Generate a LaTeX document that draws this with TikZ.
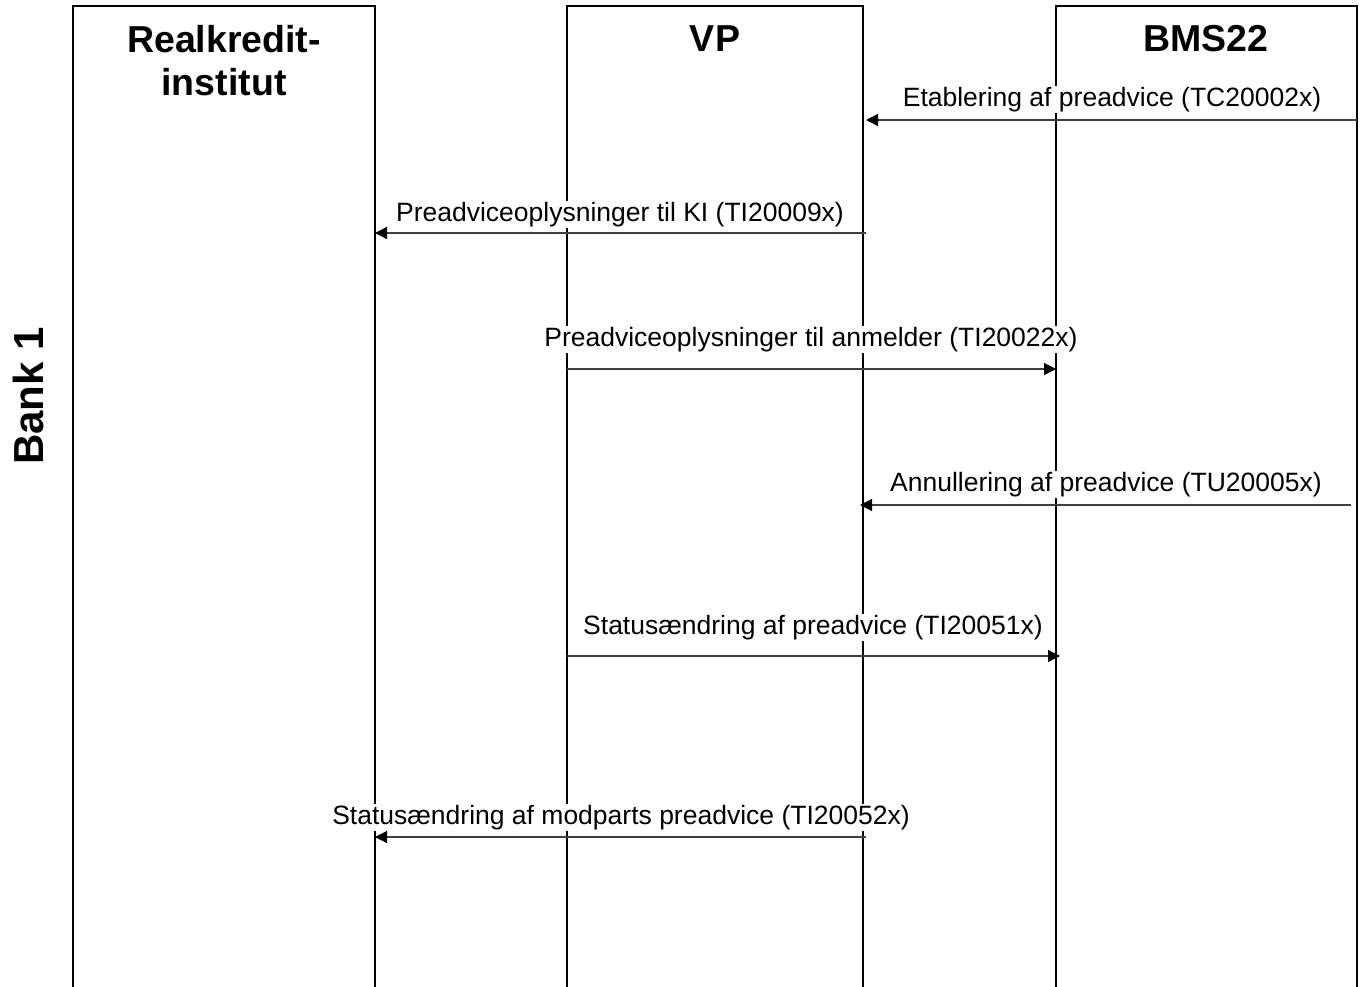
\documentclass[tikz,border=0pt]{standalone}
\usepackage{fontspec}
\setmainfont{Liberation Sans}
\usetikzlibrary{arrows.meta}

\tikzset{
  lane/.style={draw, line width=1.4pt, outer sep=0pt, inner sep=0pt,
    anchor=north west, minimum height=1000pt},
  title/.style={font=\fontsize{37.5}{43}\selectfont\bfseries, align=center,
    anchor=north, inner sep=0pt},
  msg/.style={line width=1.2pt, draw=black!75,
    -{Triangle[length=12pt,width=12pt,color=black]}},
  msglabel/.style={fill=white, inner sep=1pt, anchor=base,
    font=\fontsize{26.5}{30}\selectfont}
}

\begin{document}
\begin{tikzpicture}[x=1pt,y=-1pt]
                \useasboundingbox (0,0) rectangle (1367,986);

                % lanes
                \node[lane, minimum width=302pt] (rki) at (73,6) {};
                \node[lane, minimum width=296pt] (vp) at (567,6) {};
                \node[lane, minimum width=301pt] (bms) at (1056,6) {};

                \node[title] (rkititle) at (224,25) {Realkredit-\\institut};
                \node[title] (vptitle) at (715,25) {VP};
                \node[title] (bmstitle) at (1206,25) {BMS22};

                \node[rotate=90, inner sep=0pt, font=\fontsize{42}{48}\selectfont\bfseries] (bank) at (28.5,396) {Bank 1};

                % message labels
                \node[msglabel] (l1) at (1112,106) {Etablering af preadvice (TC20002x)};
                \node[msglabel] (l2) at (620,221) {Preadviceoplysninger til KI (TI20009x)};
                \node[msglabel] (l3) at (811,346) {Preadviceoplysninger til anmelder (TI20022x)};
                \node[msglabel] (l4) at (1106,491) {Annullering af preadvice (TU20005x)};
                \node[msglabel] (l5) at (813,634) {Statusændring af preadvice (TI20051x)};
                \node[msglabel] (l6) at (621,824) {Statusændring af modparts preadvice (TI20052x)};

                % message ends
                \coordinate (m1s) at (1357,120);
                \coordinate (m1e) at (866,120);
                \coordinate (m2s) at (866,233);
                \coordinate (m2e) at (375,233);
                \coordinate (m3s) at (567,369);
                \coordinate (m3e) at (1056,369);
                \coordinate (m4s) at (1351,505);
                \coordinate (m4e) at (860,505);
                \coordinate (m5s) at (567,656);
                \coordinate (m5e) at (1060,656);
                \coordinate (m6s) at (866,837);
                \coordinate (m6e) at (375,837);

                \draw[msg] (m1s) -- (m1e);
                \draw[msg] (m2s) -- (m2e);
                \draw[msg] (m3s) -- (m3e);
                \draw[msg] (m4s) -- (m4e);
                \draw[msg] (m5s) -- (m5e);
                \draw[msg] (m6s) -- (m6e);
\end{tikzpicture}
\end{document}
